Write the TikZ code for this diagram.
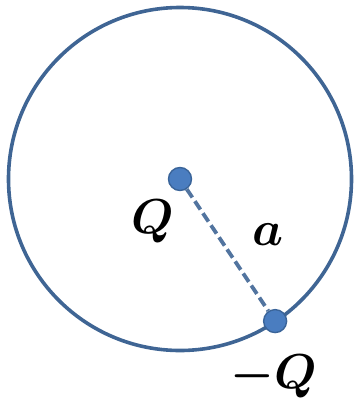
\documentclass[tikz,border=0pt]{standalone}
\usepackage{amsmath,amssymb,bm}
\usepackage{graphicx}
\usepackage{xcolor}
\usepackage{tikz}
\usetikzlibrary{calc}
\definecolor{ringBlue}{HTML}{3F6594}
\definecolor{dotBlue}{HTML}{4A7DC0}
\definecolor{dotEdge}{HTML}{3A6499}
\newcommand{\bigsym}[1]{\scalebox{4.9}{$\bm{#1}$}}

\begin{document}
\begin{tikzpicture}[x=1pt, y=-1pt,
  ring/.style={draw=ringBlue, line width=3.6pt},
  charge/.style={circle, fill=dotBlue, draw=dotEdge, line width=1.4pt,
                 minimum width=23pt, minimum height=20pt, inner sep=0pt},
  radius line/.style={draw=ringBlue!90, line width=3.8pt, dash pattern=on 10pt off 4.5pt},
  lbl/.style={inner sep=0pt},
]
\useasboundingbox (0,0) rectangle (358,405);
\coordinate (o) at (180,179);
\draw[ring] (o) circle (171.5pt);
\node[charge] (q) at (o) {};
\node[charge] (mq) at ($(o)+(-56.2:171pt)$) {};
\draw[radius line] (q) -- (mq);

\node[lbl] (qlabel) at (153,221) {\bigsym{Q}};
\node[lbl] (alabel) at (268,235) {\bigsym{a}};
\node[lbl] (mqlabel) at (274,376) {\bigsym{-Q}};
\end{tikzpicture}
\end{document}
